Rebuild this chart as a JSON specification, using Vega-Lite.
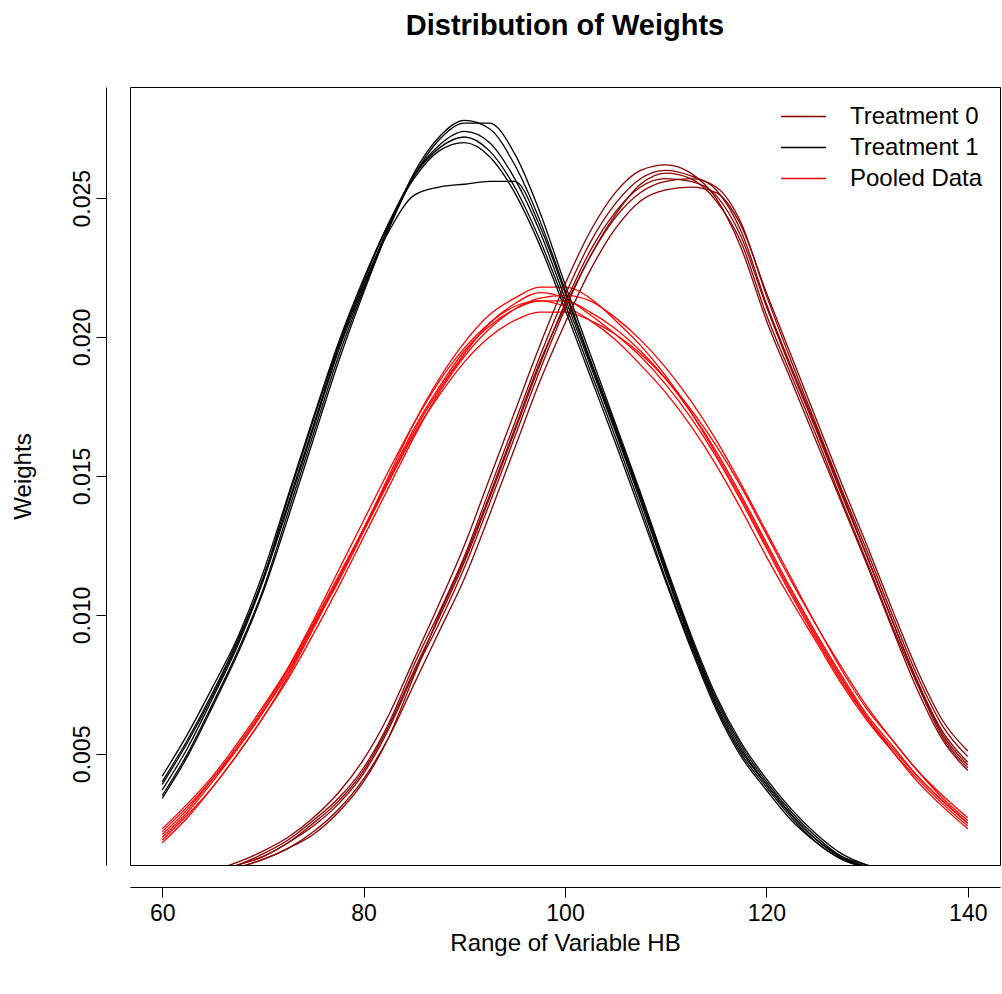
{
"$schema":"https://vega.github.io/schema/vega-lite/v6.json",
"autosize":{"type":"none"},
"padding":{"left":130,"top":87,"right":2,"bottom":129},
"width":870,"height":778,
"background":"white",
"title":{"text":"Distribution of Weights","fontSize":29,"fontWeight":"bold","font":"Liberation Sans","anchor":"middle","offset":46,"color":"black"},
"config":{"font":"Liberation Sans","view":{"stroke":"black","strokeWidth":1},"axis":{"grid":false,"domainColor":"black","tickColor":"black","labelColor":"black","titleColor":"black","labelFontSize":23,"titleFontSize":24,"titleFontWeight":"normal","tickSize":10,"labelFont":"Liberation Sans","titleFont":"Liberation Sans"}},
"data":{"values":[
{"x":60,"a1":0.0003,"a2":0.0003,"a3":0.0002,"a4":0.0003,"a5":0.0002,"a6":0.0003,"b1":0.0037,"b2":0.0034,"b3":0.0042,"b4":0.0039,"b5":0.0035,"b6":0.0040,"c1":0.0020,"c2":0.0018,"c3":0.0023,"c4":0.0021,"c5":0.0019,"c6":0.0022},
{"x":62.5,"a1":0.0005,"a2":0.0005,"a3":0.0004,"a4":0.0005,"a5":0.0004,"a6":0.0005,"b1":0.0052,"b2":0.0049,"b3":0.0057,"b4":0.0054,"b5":0.0050,"b6":0.0055,"c1":0.0029,"c2":0.0027,"c3":0.0032,"c4":0.0030,"c5":0.0028,"c6":0.0031},
{"x":65,"a1":0.0007,"a2":0.0008,"a3":0.0006,"a4":0.0007,"a5":0.0006,"a6":0.0007,"b1":0.0070,"b2":0.0067,"b3":0.0074,"b4":0.0071,"b5":0.0068,"b6":0.0072,"c1":0.0040,"c2":0.0038,"c3":0.0042,"c4":0.0041,"c5":0.0038,"c6":0.0041},
{"x":67.5,"a1":0.0010,"a2":0.0011,"a3":0.0009,"a4":0.0010,"a5":0.0009,"a6":0.0010,"b1":0.0089,"b2":0.0086,"b3":0.0092,"b4":0.0090,"b5":0.0087,"b6":0.0091,"c1":0.0052,"c2":0.0050,"c3":0.0054,"c4":0.0053,"c5":0.0050,"c6":0.0052},
{"x":70,"a1":0.0013,"a2":0.0015,"a3":0.0012,"a4":0.0014,"a5":0.0012,"a6":0.0013,"b1":0.0112,"b2":0.0108,"b3":0.0115,"b4":0.0113,"b5":0.0109,"b6":0.0113,"c1":0.0065,"c2":0.0063,"c3":0.0067,"c4":0.0066,"c5":0.0063,"c6":0.0065},
{"x":72.5,"a1":0.0018,"a2":0.0020,"a3":0.0016,"a4":0.0019,"a5":0.0016,"a6":0.0018,"b1":0.0139,"b2":0.0135,"b3":0.0143,"b4":0.0140,"b5":0.0137,"b6":0.0142,"c1":0.0079,"c2":0.0078,"c3":0.0081,"c4":0.0081,"c5":0.0077,"c6":0.0080},
{"x":75,"a1":0.0025,"a2":0.0027,"a3":0.0022,"a4":0.0026,"a5":0.0021,"a6":0.0024,"b1":0.0167,"b2":0.0163,"b3":0.0171,"b4":0.0168,"b5":0.0165,"b6":0.0170,"c1":0.0096,"c2":0.0095,"c3":0.0097,"c4":0.0098,"c5":0.0093,"c6":0.0096},
{"x":77.5,"a1":0.0033,"a2":0.0036,"a3":0.0030,"a4":0.0034,"a5":0.0029,"a6":0.0032,"b1":0.0195,"b2":0.0191,"b3":0.0198,"b4":0.0196,"b5":0.0193,"b6":0.0197,"c1":0.0113,"c2":0.0113,"c3":0.0114,"c4":0.0116,"c5":0.0110,"c6":0.0112},
{"x":80,"a1":0.0044,"a2":0.0048,"a3":0.0041,"a4":0.0045,"a5":0.0040,"a6":0.0043,"b1":0.0218,"b2":0.0216,"b3":0.0221,"b4":0.0219,"b5":0.0217,"b6":0.0220,"c1":0.0131,"c2":0.0131,"c3":0.0131,"c4":0.0134,"c5":0.0128,"c6":0.0130},
{"x":82.5,"a1":0.0060,"a2":0.0064,"a3":0.0056,"a4":0.0061,"a5":0.0056,"a6":0.0059,"b1":0.0240,"b2":0.0239,"b3":0.0241,"b4":0.0238,"b5":0.0239,"b6":0.0241,"c1":0.0149,"c2":0.0150,"c3":0.0148,"c4":0.0152,"c5":0.0146,"c6":0.0148},
{"x":85,"a1":0.0080,"a2":0.0084,"a3":0.0075,"a4":0.0082,"a5":0.0078,"a6":0.0079,"b1":0.0258,"b2":0.0259,"b3":0.0257,"b4":0.0251,"b5":0.0258,"b6":0.0258,"c1":0.0167,"c2":0.0169,"c3":0.0165,"c4":0.0169,"c5":0.0164,"c6":0.0166},
{"x":87.5,"a1":0.0099,"a2":0.0104,"a3":0.0094,"a4":0.0101,"a5":0.0100,"a6":0.0097,"b1":0.0269,"b2":0.0272,"b3":0.0267,"b4":0.0254,"b5":0.0271,"b6":0.0268,"c1":0.0182,"c2":0.0185,"c3":0.0179,"c4":0.0184,"c5":0.0180,"c6":0.0181},
{"x":90,"a1":0.0119,"a2":0.0125,"a3":0.0113,"a4":0.0121,"a5":0.0120,"a6":0.0117,"b1":0.0274,"b2":0.0278,"b3":0.0270,"b4":0.0255,"b5":0.0277,"b6":0.0272,"c1":0.0195,"c2":0.0198,"c3":0.0191,"c4":0.0196,"c5":0.0193,"c6":0.0194},
{"x":92.5,"a1":0.0142,"a2":0.0149,"a3":0.0136,"a4":0.0145,"a5":0.0143,"a6":0.0140,"b1":0.0270,"b2":0.0275,"b3":0.0265,"b4":0.0256,"b5":0.0277,"b6":0.0267,"c1":0.0204,"c2":0.0208,"c3":0.0200,"c4":0.0205,"c5":0.0203,"c6":0.0205},
{"x":95,"a1":0.0166,"a2":0.0173,"a3":0.0160,"a4":0.0169,"a5":0.0167,"a6":0.0164,"b1":0.0257,"b2":0.0262,"b3":0.0252,"b4":0.0256,"b5":0.0266,"b6":0.0254,"c1":0.0210,"c2":0.0214,"c3":0.0206,"c4":0.0211,"c5":0.0210,"c6":0.0212},
{"x":97.5,"a1":0.0190,"a2":0.0197,"a3":0.0184,"a4":0.0193,"a5":0.0191,"a6":0.0188,"b1":0.0238,"b2":0.0242,"b3":0.0233,"b4":0.0240,"b5":0.0245,"b6":0.0235,"c1":0.0213,"c2":0.0218,"c3":0.0209,"c4":0.0213,"c5":0.0214,"c6":0.0216},
{"x":100,"a1":0.0212,"a2":0.0219,"a3":0.0205,"a4":0.0215,"a5":0.0211,"a6":0.0210,"b1":0.0214,"b2":0.0217,"b3":0.0210,"b4":0.0216,"b5":0.0219,"b6":0.0212,"c1":0.0213,"c2":0.0218,"c3":0.0209,"c4":0.0211,"c5":0.0215,"c6":0.0214},
{"x":102.5,"a1":0.0231,"a2":0.0238,"a3":0.0224,"a4":0.0234,"a5":0.0229,"a6":0.0229,"b1":0.0190,"b2":0.0192,"b3":0.0186,"b4":0.0191,"b5":0.0194,"b6":0.0188,"c1":0.0209,"c2":0.0214,"c3":0.0206,"c4":0.0206,"c5":0.0213,"c6":0.0208},
{"x":105,"a1":0.0245,"a2":0.0252,"a3":0.0239,"a4":0.0248,"a5":0.0243,"a6":0.0244,"b1":0.0166,"b2":0.0168,"b3":0.0162,"b4":0.0167,"b5":0.0169,"b6":0.0164,"c1":0.0203,"c2":0.0206,"c3":0.0201,"c4":0.0199,"c5":0.0207,"c6":0.0201},
{"x":107.5,"a1":0.0254,"a2":0.0260,"a3":0.0249,"a4":0.0257,"a5":0.0252,"a6":0.0255,"b1":0.0141,"b2":0.0143,"b3":0.0137,"b4":0.0142,"b5":0.0144,"b6":0.0139,"c1":0.0195,"c2":0.0197,"c3":0.0194,"c4":0.0190,"c5":0.0199,"c6":0.0193},
{"x":110,"a1":0.0257,"a2":0.0262,"a3":0.0253,"a4":0.0260,"a5":0.0256,"a6":0.0259,"b1":0.0115,"b2":0.0117,"b3":0.0112,"b4":0.0116,"b5":0.0118,"b6":0.0113,"c1":0.0185,"c2":0.0186,"c3":0.0185,"c4":0.0180,"c5":0.0189,"c6":0.0183},
{"x":112.5,"a1":0.0256,"a2":0.0259,"a3":0.0254,"a4":0.0258,"a5":0.0257,"a6":0.0257,"b1":0.0090,"b2":0.0092,"b3":0.0088,"b4":0.0091,"b5":0.0093,"b6":0.0089,"c1":0.0173,"c2":0.0173,"c3":0.0174,"c4":0.0168,"c5":0.0177,"c6":0.0171},
{"x":115,"a1":0.0251,"a2":0.0250,"a3":0.0252,"a4":0.0253,"a5":0.0254,"a6":0.0249,"b1":0.0068,"b2":0.0070,"b3":0.0066,"b4":0.0069,"b5":0.0071,"b6":0.0067,"c1":0.0159,"c2":0.0158,"c3":0.0161,"c4":0.0154,"c5":0.0163,"c6":0.0157},
{"x":117.5,"a1":0.0236,"a2":0.0232,"a3":0.0240,"a4":0.0238,"a5":0.0241,"a6":0.0234,"b1":0.0051,"b2":0.0053,"b3":0.0049,"b4":0.0052,"b5":0.0054,"b6":0.0050,"c1":0.0143,"c2":0.0142,"c3":0.0146,"c4":0.0138,"c5":0.0147,"c6":0.0141},
{"x":120,"a1":0.0211,"a2":0.0206,"a3":0.0216,"a4":0.0212,"a5":0.0215,"a6":0.0208,"b1":0.0039,"b2":0.0040,"b3":0.0037,"b4":0.0039,"b5":0.0041,"b6":0.0038,"c1":0.0126,"c2":0.0125,"c3":0.0129,"c4":0.0121,"c5":0.0130,"c6":0.0124},
{"x":122.5,"a1":0.0188,"a2":0.0184,"a3":0.0193,"a4":0.0189,"a5":0.0191,"a6":0.0186,"b1":0.0028,"b2":0.0029,"b3":0.0026,"b4":0.0028,"b5":0.0030,"b6":0.0027,"c1":0.0109,"c2":0.0108,"c3":0.0112,"c4":0.0105,"c5":0.0113,"c6":0.0107},
{"x":125,"a1":0.0166,"a2":0.0162,"a3":0.0170,"a4":0.0167,"a5":0.0168,"a6":0.0164,"b1":0.0019,"b2":0.0020,"b3":0.0018,"b4":0.0019,"b5":0.0021,"b6":0.0018,"c1":0.0093,"c2":0.0092,"c3":0.0096,"c4":0.0090,"c5":0.0096,"c6":0.0091},
{"x":127.5,"a1":0.0143,"a2":0.0140,"a3":0.0147,"a4":0.0144,"a5":0.0145,"a6":0.0141,"b1":0.00125,"b2":0.0013,"b3":0.0012,"b4":0.0013,"b5":0.0014,"b6":0.0012,"c1":0.0078,"c2":0.0077,"c3":0.0080,"c4":0.0075,"c5":0.0081,"c6":0.0076},
{"x":130,"a1":0.0121,"a2":0.0118,"a3":0.0125,"a4":0.0121,"a5":0.0123,"a6":0.0119,"b1":0.00095,"b2":0.0010,"b3":0.0009,"b4":0.0009,"b5":0.0010,"b6":0.0009,"c1":0.0064,"c2":0.0063,"c3":0.0066,"c4":0.0062,"c5":0.0067,"c6":0.0063},
{"x":132.5,"a1":0.0098,"a2":0.0095,"a3":0.0102,"a4":0.0098,"a5":0.0100,"a6":0.0096,"b1":0.0007,"b2":0.0007,"b3":0.0007,"b4":0.0007,"b5":0.0008,"b6":0.0006,"c1":0.0053,"c2":0.0051,"c3":0.0055,"c4":0.0051,"c5":0.0055,"c6":0.0052},
{"x":135,"a1":0.0076,"a2":0.0073,"a3":0.0080,"a4":0.0076,"a5":0.0078,"a6":0.0075,"b1":0.0005,"b2":0.0005,"b3":0.0005,"b4":0.0005,"b5":0.0006,"b6":0.0005,"c1":0.0042,"c2":0.0040,"c3":0.0044,"c4":0.0041,"c5":0.0044,"c6":0.0042},
{"x":137.5,"a1":0.0058,"a2":0.0055,"a3":0.0062,"a4":0.0057,"a5":0.0060,"a6":0.0056,"b1":0.0004,"b2":0.0004,"b3":0.0004,"b4":0.0004,"b5":0.0004,"b6":0.0003,"c1":0.0033,"c2":0.0031,"c3":0.0035,"c4":0.0032,"c5":0.0034,"c6":0.0033},
{"x":140,"a1":0.0047,"a2":0.0044,"a3":0.0051,"a4":0.0046,"a5":0.0049,"a6":0.0045,"b1":0.0003,"b2":0.0003,"b3":0.0003,"b4":0.0003,"b5":0.0003,"b6":0.0003,"c1":0.0025,"c2":0.0023,"c3":0.0027,"c4":0.0024,"c5":0.0026,"c6":0.0025}
]},
"encoding":{
"x":{"field":"x","type":"quantitative","scale":{"domain":[56.8,143.2],"nice":false,"zero":false},"axis":{"values":[60,80,100,120,140],"offset":22,"labelPadding":5,"titlePadding":6,"title":"Range of Variable HB"}},
"y":{"field":"y","type":"quantitative","scale":{"domain":[0.001,0.029],"nice":false,"zero":false},"axis":{"values":[0.005,0.01,0.015,0.02,0.025],"format":".3f","offset":24,"labelAngle":-90,"labelAlign":"center","labelBaseline":"bottom","labelPadding":2,"titlePadding":36,"title":"Weights"}}
},
"layer":[
{"transform":[{"fold":["c1","c2","c3","c4","c5","c6"],"as":["k","y"]}],
"mark":{"type":"line","clip":true,"strokeWidth":1.3,"interpolate":"monotone"},
"encoding":{"detail":{"field":"k"},"color":{"datum":"Pooled Data","type":"nominal","scale":{"domain":["Treatment 0","Treatment 1","Pooled Data"],"range":["#8B0000","#000000","#FF0000"]},"legend":{"title":null,"orient":"none","legendX":650,"legendY":14,"symbolType":"stroke","symbolSize":2025,"symbolStrokeWidth":1.5,"labelFontSize":24,"labelFont":"Liberation Sans","labelColor":"black","labelOffset":23,"rowPadding":0,"clipHeight":31}}}},
{"transform":[{"fold":["b1","b2","b3","b4","b5","b6"],"as":["k","y"]}],
"mark":{"type":"line","clip":true,"strokeWidth":1.3,"interpolate":"monotone"},
"encoding":{"detail":{"field":"k"},"color":{"datum":"Treatment 1","type":"nominal"}}},
{"transform":[{"fold":["a1","a2","a3","a4","a5","a6"],"as":["k","y"]}],
"mark":{"type":"line","clip":true,"strokeWidth":1.3,"interpolate":"monotone"},
"encoding":{"detail":{"field":"k"},"color":{"datum":"Treatment 0","type":"nominal"}}}
]
}
